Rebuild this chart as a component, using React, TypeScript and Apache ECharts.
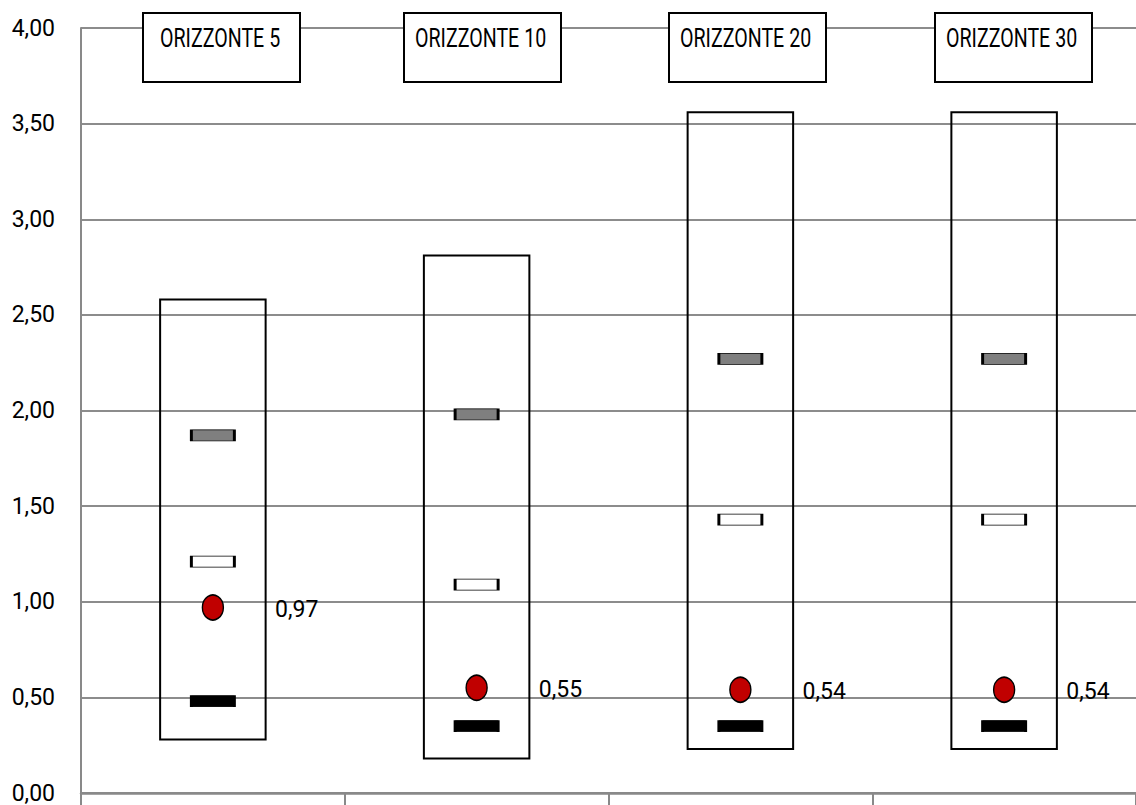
import React, { useEffect, useRef } from "react";
import * as echarts from "echarts";

const categories = ["ORIZZONTE 5", "ORIZZONTE 10", "ORIZZONTE 20", "ORIZZONTE 30"];
const rangeLow = [0.28, 0.18, 0.23, 0.23];
const rangeHigh = [2.58, 2.81, 3.56, 3.56];
const grayMark = [1.87, 1.98, 2.27, 2.27];
const whiteMark = [1.21, 1.09, 1.43, 1.43];
const redPoint = [0.97, 0.55, 0.54, 0.54];
const blackMark = [0.48, 0.35, 0.35, 0.35];
const yTicks = { min: 0, max: 4, interval: 0.5 };

const fmt = (v: number) => v.toFixed(2).replace(".", ",");

// layout of header boxes (pixels)
const boxLefts = [142, 403, 668, 934];
const boxTop = 12;
const boxW = 157;
const boxH = 69;

export default function App() {
  const ref = useRef<HTMLDivElement>(null);
  useEffect(() => {
    if (!ref.current) return;
    const chart = echarts.init(ref.current, null, { renderer: "svg" });
    const font = "Roboto";
    const markerStyle = (fill: string) => ({
      color: fill,
      borderColor: "#000",
      borderWidth: 1.5,
      opacity: 1,
    });
    const graphics: any[] = [];
    categories.forEach((c, i) => {
      graphics.push({
        type: "rect",
        left: boxLefts[i],
        top: boxTop,
        shape: { x: 0, y: 0, width: boxW, height: boxH },
        style: { fill: "#fff", stroke: "#000", lineWidth: 2 },
        z: 10,
      });
      graphics.push({
        type: "text",
        x: boxLefts[i] + (i === 0 ? 18 : 12),
        y: boxTop + 26,
        scaleX: 0.785,
        style: {
          x: 0,
          y: 0,
          text: c,
          fill: "#000",
          font: `25px ${font}`,
          textAlign: "left",
          textVerticalAlign: "middle",
        },
        z: 11,
      });
    });
    const markSeries = (data: number[], fill: string) => ({
      type: "scatter",
      z: 3,
      symbol: "rect",
      symbolSize: [43, 11],
      data,
      itemStyle: markerStyle(fill),
      emphasis: { disabled: true },
    });
    chart.setOption({
      animation: false,
      backgroundColor: "#fff",
      grid: { left: 81, top: 28, width: 1061, height: 765 },
      xAxis: {
        type: "category",
        data: categories,
        boundaryGap: true,
        axisLine: { show: true, lineStyle: { color: "#898989", width: 2.5 } },
        axisTick: { show: true, length: 14, lineStyle: { color: "#898989", width: 2 } },
        axisLabel: { show: false },
        splitLine: { show: false },
      },
      yAxis: {
        type: "value",
        min: yTicks.min,
        max: yTicks.max,
        interval: yTicks.interval,
        axisLine: { show: true, lineStyle: { color: "#898989", width: 2 } },
        axisTick: { show: false },
        axisLabel: {
          formatter: (v: number) => fmt(v),
          fontFamily: font,
          fontSize: 23,
          color: "#000",
          margin: 26,
        },
        splitLine: { show: true, lineStyle: { color: "#8c8c8c", width: 2 } },
      },
      series: [
        {
          type: "custom",
          z: 2,
          data: categories.map((c, i) => [i, rangeLow[i], rangeHigh[i]]),
          encode: { x: 0, y: [1, 2] },
          renderItem: (params: any, api: any) => {
            const x = api.value(0);
            const lo = api.coord([x, api.value(1)]);
            const hi = api.coord([x, api.value(2)]);
            const w = api.size([1, 0])[0] * 0.4;
            return {
              type: "rect",
              shape: { x: lo[0] - w / 2, y: hi[1], width: w, height: lo[1] - hi[1] },
              style: { fill: "none", stroke: "#000", lineWidth: 2 },
            };
          },
        },
        markSeries(grayMark, "#7f7f7f"),
        markSeries(whiteMark, "#ffffff"),
        markSeries(blackMark, "#000000"),
        {
          type: "scatter",
          z: 4,
          symbol: "circle",
          symbolSize: [21, 25],
          data: redPoint,
          itemStyle: markerStyle("#c00000"),
          emphasis: { disabled: true },
          label: {
            show: true,
            position: "right",
            distance: 51,
            formatter: (p: any) => fmt(p.value),
            fontFamily: font,
            fontSize: 23,
            color: "#000",
            opacity: 1,
            offset: [0, 2],
          },
        },
      ],
      graphic: graphics,
    });
    return () => chart.dispose();
  }, []);
  return (
    <div
      ref={ref}
      style={{ position: "fixed", left: 0, top: 0, width: 1136, height: 805 }}
    />
  );
}
